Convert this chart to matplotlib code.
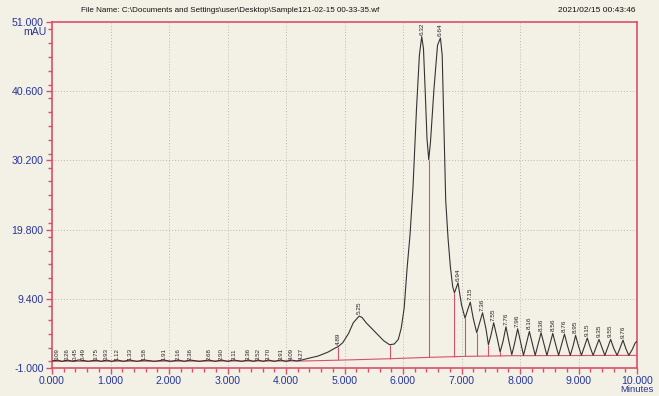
import matplotlib.pyplot as plt
from matplotlib.ticker import MultipleLocator, FixedLocator, FormatStrFormatter

# chromatogram trace (minutes, mAU)
trace_t = [0.00, 0.09, 0.17, 0.26, 0.36, 0.45, 0.49, 0.62, 0.75, 0.84, 0.93, 1.02,
           1.12, 1.22, 1.33, 1.45, 1.58, 1.75, 1.91, 2.03, 2.16, 2.26, 2.36, 2.52,
           2.68, 2.79, 2.90, 3.00, 3.11, 3.24, 3.36, 3.44, 3.52, 3.61, 3.70, 3.80,
           3.91, 4.00, 4.09, 4.18, 4.27,
           4.38, 4.55, 4.72, 4.84, 4.89, 4.97, 5.07, 5.15, 5.25, 5.30, 5.37, 5.47,
           5.57, 5.67, 5.77, 5.85, 5.92, 5.97, 6.02, 6.07, 6.12, 6.17, 6.23, 6.28,
           6.32, 6.35, 6.38, 6.41, 6.44, 6.47, 6.53, 6.59, 6.64, 6.67, 6.70, 6.73,
           6.77, 6.81, 6.85, 6.88, 6.94, 7.00, 7.06, 7.10, 7.15, 7.20, 7.26, 7.31,
           7.36, 7.42, 7.46, 7.50, 7.55, 7.61, 7.66, 7.71, 7.76, 7.81, 7.86, 7.91,
           7.96, 8.01, 8.06, 8.11, 8.16, 8.21, 8.26, 8.31, 8.36, 8.41, 8.46, 8.51,
           8.56, 8.61, 8.66, 8.71, 8.76, 8.81, 8.86, 8.91, 8.95, 9.00, 9.05, 9.10,
           9.15, 9.20, 9.25, 9.30, 9.35, 9.40, 9.45, 9.50, 9.55, 9.60, 9.66, 9.71,
           9.76, 9.81, 9.86, 9.92, 9.97, 10.00]
trace_v = [0.05, 0.2, 0.0, 0.2, 0.0, 0.2, 0.2, 0.0, 0.2, 0.0, 0.2, 0.0,
           0.2, 0.0, 0.2, 0.0, 0.2, 0.0, 0.2, 0.0, 0.2, 0.0, 0.2, 0.0,
           0.2, 0.0, 0.2, 0.0, 0.2, 0.0, 0.2, 0.0, 0.2, 0.0, 0.2, 0.0,
           0.2, 0.0, 0.2, 0.05, 0.2,
           0.45, 0.8, 1.4, 2.0, 2.2, 2.8, 4.2, 5.8, 6.8, 6.6, 5.8, 4.9,
           4.0, 3.1, 2.5, 2.6, 3.3, 5.0, 8.0, 14.0, 19.0, 26.0, 37.8, 46.0,
           48.8, 47.0, 40.5, 33.5, 30.3, 33.0, 41.0, 47.5, 48.6, 46.0, 35.0, 24.2,
           18.5, 14.2, 11.2, 10.3, 11.8, 8.5, 6.5, 7.6, 8.9, 6.5, 4.3, 5.8,
           7.3, 4.8, 2.5, 3.8, 5.8, 3.5, 1.4, 3.0, 5.2, 3.0, 1.0, 2.8,
           4.9, 2.9, 0.9, 2.7, 4.5, 2.7, 0.9, 2.6, 4.3, 2.6, 0.9, 2.5,
           4.2, 2.5, 0.9, 2.5, 4.1, 2.4, 0.9, 2.4, 3.9, 2.3, 0.9, 2.2,
           3.5, 2.1, 0.9, 2.1, 3.3, 2.1, 0.9, 2.1, 3.3, 2.0, 0.9, 2.0,
           3.2, 1.9, 0.9, 1.8, 2.8, 3.0]

# retention time labels
small_peaks = [0.09, 0.26, 0.45, 0.49, 0.75, 0.93, 1.12, 1.33, 1.58, 1.91, 2.16,
               2.36, 2.68, 2.90, 3.11, 3.36, 3.52, 3.70, 3.91, 4.09, 4.27]
main_peaks = [4.89, 5.25, 6.32, 6.64, 6.94, 7.15, 7.36, 7.55, 7.76, 7.96, 8.16,
              8.36, 8.56, 8.76, 8.95, 9.15, 9.35, 9.55, 9.76]
main_heights = [2.2, 6.8, 48.8, 48.6, 11.8, 8.9, 7.3, 5.8, 5.2, 4.9, 4.5,
                4.3, 4.2, 4.1, 3.9, 3.5, 3.3, 3.3, 3.2]

# integration baseline and drop lines (red)
base_t = [0.0, 4.3, 5.0, 5.8, 6.44, 7.06, 7.9, 10.0]
base_v = [0.0, 0.05, 0.2, 0.4, 0.6, 0.75, 0.85, 0.9]
drop_t = [4.89, 5.77, 6.44, 6.88, 7.06, 7.26, 7.46, 7.66]
drop_top = [2.2, 2.5, 30.3, 10.3, 6.5, 4.3, 2.5, 1.4]
drop_bot = [0.2, 0.4, 0.6, 0.7, 0.75, 0.77, 0.8, 0.82]

y_ticks = [-1.0, 9.4, 19.8, 30.2, 40.6, 51.0]

paper = '#f3f1e6'
red = '#d9506a'
blue = '#26359a'

plt.rcParams['font.family'] = ['Liberation Sans', 'DejaVu Sans']

fig = plt.figure(figsize=(6.59, 3.96), dpi=100)
fig.patch.set_facecolor(paper)
ax = fig.add_axes([52 / 659, 28 / 396, 585 / 659, 346 / 396])
ax.set_facecolor(paper)

ax.set_xlim(0, 10)
ax.set_ylim(-1, 51)

# grid
for gx in range(1, 10):
    ax.axvline(gx, color='#a5a5a0', lw=0.6, ls=(0, (1, 2.5)), zorder=1)
for gy in y_ticks[1:-1]:
    ax.axhline(gy, color='#a5a5a0', lw=0.6, ls=(0, (1, 2.5)), zorder=1)

ax.plot(base_t, base_v, color=red, lw=0.8, zorder=2)
ax.vlines(drop_t, drop_bot, drop_top, color=red, lw=0.8, zorder=2)
ax.plot(trace_t, trace_v, color='#333333', lw=0.8, zorder=3)

for t in small_peaks:
    # 0.45 and 0.49 sit almost on top of each other, nudge them apart a bit
    dx = -0.05 if t == 0.45 else (0.05 if t == 0.49 else 0)
    ax.text(t + dx, 0.25, '%.2f' % t, rotation=90, ha='center', va='bottom',
            fontsize=4.4, color='#222222')
for t, h in zip(main_peaks, main_heights):
    ax.text(t, h + 0.3, '%.2f' % t, rotation=90, ha='center', va='bottom',
            fontsize=4.6, color='#222222')

# axes styling
for s in ax.spines.values():
    s.set_color(red)
    s.set_linewidth(1.2)
ax.xaxis.set_major_locator(MultipleLocator(1))
ax.xaxis.set_minor_locator(MultipleLocator(0.2))
ax.xaxis.set_major_formatter(FormatStrFormatter('%.3f'))
ax.yaxis.set_major_locator(FixedLocator(y_ticks))
ax.yaxis.set_minor_locator(MultipleLocator(10.4 / 5))
ax.yaxis.set_major_formatter(FormatStrFormatter('%.3f'))
ax.tick_params(which='both', direction='out', color=red, width=1.0,
               labelcolor=blue, labelsize=7.6, top=False, right=False)
ax.tick_params(which='major', length=4, pad=2)
ax.tick_params(which='minor', length=3)

fig.text(47 / 659, 1 - 32 / 396, 'mAU', ha='right', va='center', color=blue, fontsize=7.6)
fig.text(637 / 659, 1 - 390 / 396, 'Minutes', ha='center', va='center', color=blue, fontsize=6.8)
fig.text(81 / 659, 1 - 10 / 396,
         r'File Name: C:\Documents and Settings\user\Desktop\Sample121-02-15 00-33-35.wf',
         ha='left', va='center', fontsize=5.8, color='#111111')
fig.text(636 / 659, 1 - 10 / 396, '2021/02/15 00:43:46',
         ha='right', va='center', fontsize=6.0, color='#111111')

fig.savefig('out.png', dpi=100, facecolor=paper)
